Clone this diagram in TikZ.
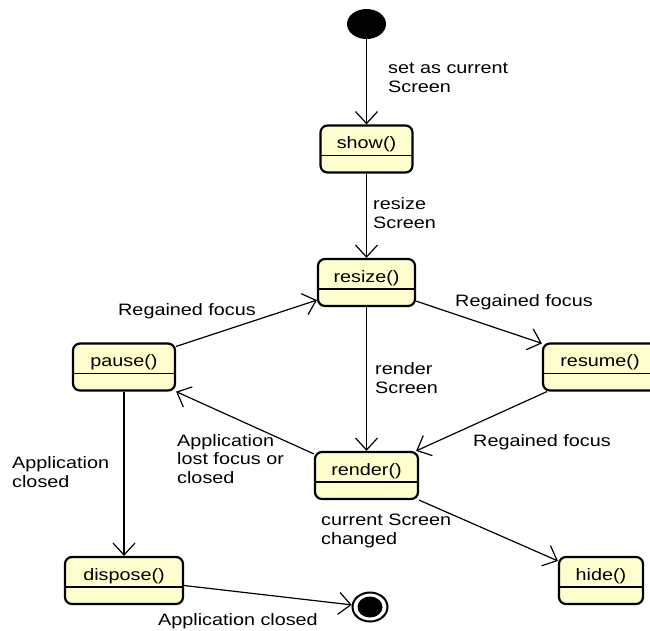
\documentclass[tikz,border=0pt]{standalone}
\usepackage{fontspec}
\setmainfont{Liberation Sans}[FakeStretch=1.2]
\usepackage{tikz}
\usetikzlibrary{arrows.meta, shapes.geometric}
\definecolor{statefill}{HTML}{FEFECE}

\tikzset{
  state/.style={draw, line width=2.2pt, rounded corners=7pt, fill=statefill,
    minimum height=47pt, inner sep=0pt, text height=23pt, text depth=24pt,
    path picture={\draw[line width=1.2pt]
      ([yshift=-30pt]path picture bounding box.north west) --
      ([yshift=-30pt]path picture bounding box.north east);}},
  startdot/.style={ellipse, fill=black, minimum width=39pt, minimum height=30pt, inner sep=0pt},
  enddot/.style={ellipse, draw, line width=2pt, fill=white, minimum width=35pt,
    minimum height=29pt, inner sep=0pt,
    path picture={\fill[black] (path picture bounding box.center) ellipse (12.5pt and 10.5pt);}},
  trans/.style={draw, line width=1.2pt, -{Straight Barb[length=12pt, width=22pt]}},
  lbl/.style={anchor=base west, align=left, inner sep=0pt}
}

\begin{document}
\begin{tikzpicture}[x=1pt, y=-1pt, font=\fontsize{16.5pt}{18.5pt}\selectfont]
  \useasboundingbox (0,0) rectangle (650,630);
  % states
  \node[startdot] (start) at (366.5,24) {};
  \node[state, minimum width=92pt] (show) at (366.5,149) {show()};
  \node[state, minimum width=97pt] (resize) at (366.5,282.5) {resize()};
  \node[state, minimum width=102pt] (pause) at (124,367) {pause()};
  \node[state, minimum width=114pt] (resume) at (600,367) {resume()};
  \node[state, minimum width=103pt] (render) at (366.5,475.5) {render()};
  \node[state, minimum width=84pt] (hide) at (601,580.5) {hide()};
  \node[state, minimum width=118pt] (dispose) at (124,580.5) {dispose()};
  \node[enddot] (end) at (370,607) {};

  % transitions
  \draw[trans] (start) -- (show);
  \draw[trans] (show) -- (resize);
  \draw[trans] (resize) -- (render);
  \draw[trans] ([yshift=-4pt]pause.north east) -- ([yshift=7pt]resize.south west);
  \draw[trans] ([yshift=6pt]resize.south east) -- ([yshift=-1pt]resume.north west);
  \draw[trans] ([xshift=5pt]resume.south west) -- ([xshift=-3pt]render.north east);
  \draw[trans] ([yshift=-3pt]render.north west) -- (pause.south east);
  \draw[trans] (pause) -- (dispose);
  \draw[trans] (render.south east) -- ([yshift=-5pt]hide.north west);
  \draw[trans] ([yshift=-5pt]dispose.east) -- (end);

  % labels (base = last line)
  \node[lbl] (setlbl) at (388,92) {set as current\\Screen};
  \node[lbl] (resizelbl) at (373,228) {resize\\Screen};
  \node[lbl] (renderlbl) at (375,393) {render\\Screen};
  \node[lbl] (regainlbla) at (118,315) {Regained focus};
  \node[lbl] (regainlblb) at (455,306) {Regained focus};
  \node[lbl] (regainlblc) at (473,446) {Regained focus};
  \node[lbl] (lostlbl) at (177,483) {Application\\lost focus or\\closed};
  \node[lbl] (closedlbl) at (12,487) {Application\\closed};
  \node[lbl] (changedlbl) at (321,544) {current Screen\\changed};
  \node[lbl] (exitlbl) at (158,625) {Application closed};
\end{tikzpicture}
\end{document}
